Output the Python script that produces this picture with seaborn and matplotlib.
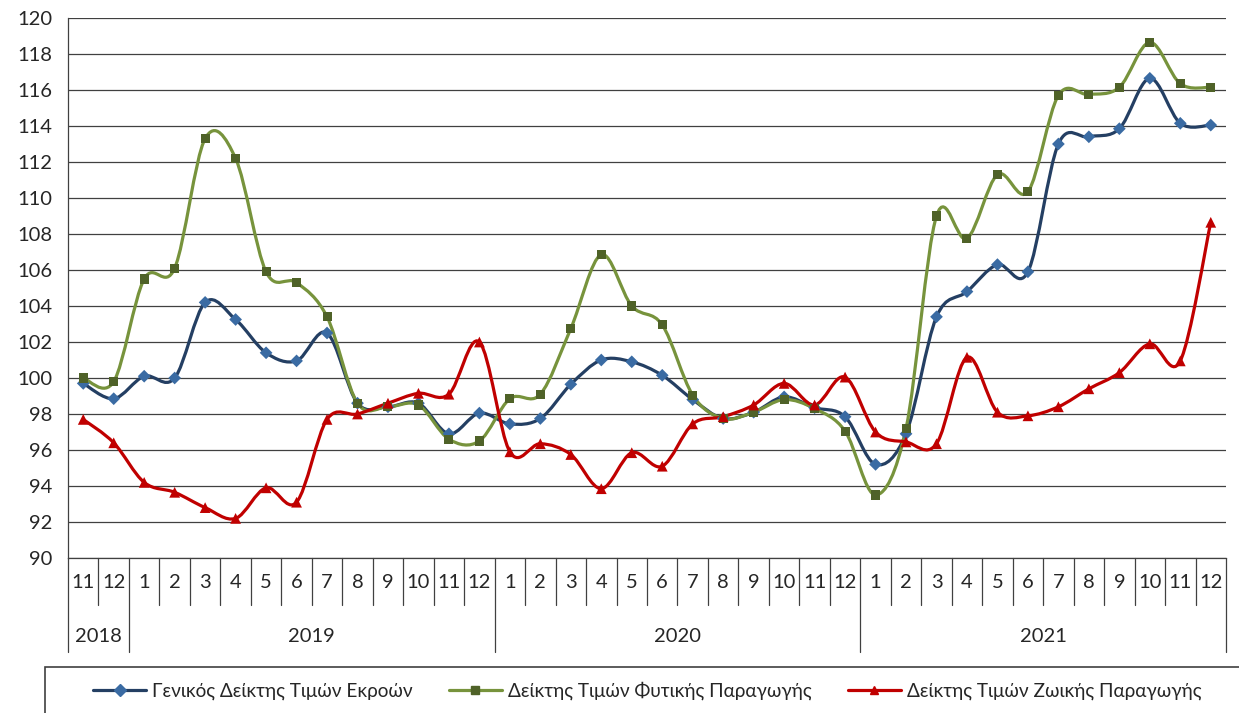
import numpy as np
import pandas as pd
import matplotlib
matplotlib.use('Agg')
import matplotlib.pyplot as plt
import seaborn as sns
from matplotlib.path import Path
from matplotlib.patches import PathPatch, Rectangle
from matplotlib.lines import Line2D

# Data (Nov 2018 - Dec 2021)
months = ['11', '12'] + [str(m) for m in range(1, 13)] * 3
years = ['2018', '2019', '2020', '2021']
year_spans = [(0, 1), (2, 13), (14, 25), (26, 37)]

general = [99.7, 98.85, 100.1, 100.0, 104.2, 103.25, 101.4, 100.95, 102.5, 98.6,
           98.4, 98.6, 96.9, 98.05, 97.45, 97.75, 99.65, 101.0, 100.9, 100.15,
           98.8, 97.75, 98.1, 98.95, 98.35, 97.85, 95.2, 96.9, 103.4, 104.8,
           106.3, 105.9, 113.0, 113.4, 113.85, 116.65, 114.15, 114.05]
crop = [100.0, 99.8, 105.5, 106.1, 113.3, 112.2, 105.9, 105.3, 103.4, 98.6,
        98.4, 98.5, 96.6, 96.5, 98.85, 99.1, 102.75, 106.85, 104.0, 102.95,
        99.05, 97.75, 98.1, 98.8, 98.3, 97.05, 93.5, 97.2, 109.0, 107.75,
        111.3, 110.35, 115.7, 115.75, 116.15, 118.65, 116.35, 116.15]
animal = [97.7, 96.4, 94.2, 93.65, 92.8, 92.2, 93.9, 93.1, 97.7, 98.0,
          98.6, 99.15, 99.1, 102.0, 95.9, 96.35, 95.75, 93.85, 95.85, 95.1,
          97.45, 97.85, 98.5, 99.7, 98.5, 100.05, 97.0, 96.45, 96.35, 101.15,
          98.1, 97.9, 98.4, 99.4, 100.3, 101.9, 100.95, 108.65]

labels = ['Γενικός Δείκτης Τιμών Εκροών',
          'Δείκτης Τιμών Φυτικής Παραγωγής',
          'Δείκτης Τιμών Ζωικής Παραγωγής']
line_colors = ['#243F63', '#77933C', '#C00000']
marker_colors = ['#3A6BA3', '#4F6228', '#C00000']
markers = ['D', 's', '^']
marker_sizes = [42, 42, 60]

sns.set_style('white')
plt.rcParams['font.family'] = ['Lato', 'Noto Sans', 'DejaVu Sans']
plt.rcParams['font.size'] = 14.5

x = np.arange(len(months))
df = pd.DataFrame({'x': np.tile(x, 3),
                   'value': general + crop + animal,
                   'series': np.repeat(labels, len(x))})


def smooth_path(xs, ys):
    # Catmull-Rom style bezier, like a spreadsheet "smoothed line"
    pts = np.column_stack([xs, ys]).astype(float)
    verts = [pts[0]]
    codes = [Path.MOVETO]
    n = len(pts)
    for i in range(n - 1):
        p0 = pts[i - 1] if i > 0 else pts[i]
        p1 = pts[i]
        p2 = pts[i + 1]
        p3 = pts[i + 2] if i + 2 < n else pts[i + 1]
        c1 = p1 + (p2 - p0) / 6.0
        c2 = p2 - (p3 - p1) / 6.0
        verts += [c1, c2, p2]
        codes += [Path.CURVE4] * 3
    return Path(verts, codes)


W, H = 1239, 713
fig = plt.figure(figsize=(W / 100, H / 100), dpi=100)
ax_l, ax_r, ax_t, ax_b = 68, 1226, 18, 558
ax = fig.add_axes([ax_l / W, 1 - ax_b / H, (ax_r - ax_l) / W, (ax_b - ax_t) / H])

for i, lab in enumerate(labels):
    sub = df[df['series'] == lab]
    ax.add_patch(PathPatch(smooth_path(sub['x'], sub['value']), fill=False,
                           edgecolor=line_colors[i], linewidth=2.3, zorder=3,
                           capstyle='round', joinstyle='round'))
sns.scatterplot(data=df, x='x', y='value', hue='series', style='series',
                palette=dict(zip(labels, marker_colors)),
                markers=dict(zip(labels, markers)),
                size='series', sizes=dict(zip(labels, marker_sizes)),
                linewidth=0, legend=False, zorder=4, ax=ax)

ax.set_xlim(-0.5, len(x) - 0.5)
ax.set_ylim(90, 120)
ax.set_yticks(np.arange(90, 121, 2))
ax.set_xticks([])
ax.set_xticks(np.arange(-0.5, len(x), 0.5), minor=True)
ax.tick_params(axis='x', which='minor', direction='in', length=4, width=0.8, color='#404040')
ax.tick_params(axis='y', direction='out', length=6, width=0.8, color='#404040', pad=5,
               labelsize=14.5)
ax.set_xlabel('')
ax.set_ylabel('')
ax.yaxis.grid(True, color='#404040', linewidth=0.9)
ax.xaxis.grid(False)
for s in ['top', 'right']:
    ax.spines[s].set_visible(False)
for s in ['left', 'bottom']:
    ax.spines[s].set_color('#404040')
    ax.spines[s].set_linewidth(0.9)

# two-level category axis
axh = ax_b - ax_t
trans = ax.get_xaxis_transform()
year_edges = [s for s, e in year_spans] + [year_spans[-1][1] + 1]
for b in range(len(x) + 1):
    depth = 94 if b in year_edges else 47
    ax.plot([b - 0.5, b - 0.5], [0, -depth / axh], transform=trans, clip_on=False,
            color='#404040', linewidth=0.9)
for i, m in enumerate(months):
    ax.text(i, -24 / axh, m, transform=trans, ha='center', va='center', fontsize=14.5)
for yr, (s, e) in zip(years, year_spans):
    ax.text((s + e) / 2, -79 / axh, yr, transform=trans, ha='center', va='center',
            fontsize=14.5)

# legend box
fig.patches.append(Rectangle((45 / W, -0.1), 1.2, 1 - 667 / H + 0.1,
                             transform=fig.transFigure, fill=False,
                             edgecolor='#404040', linewidth=1.2))
handles = [Line2D([], [], color=line_colors[i], linewidth=2.3, marker=markers[i],
                  markerfacecolor=marker_colors[i], markeredgecolor=marker_colors[i],
                  markersize=6) for i in range(3)]
fig.legend(handles, labels, ncol=3, frameon=False, loc='center left',
           bbox_to_anchor=(93 / W, 1 - 691 / H), fontsize=13.7, borderpad=0,
           borderaxespad=0, handlelength=2.8, handletextpad=0.3, columnspacing=1.9)

fig.savefig('out.png', dpi=100, facecolor='white')
